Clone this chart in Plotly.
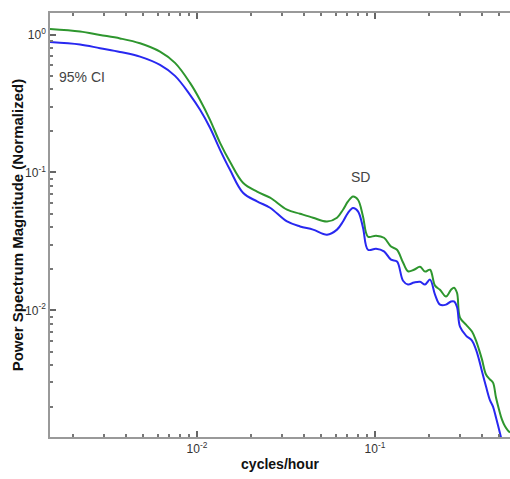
import plotly.graph_objects as go

freq = [0.001493, 0.002202, 0.002851, 0.003694, 0.004783, 0.006195, 0.007522, 0.009134,
        0.01040, 0.01183, 0.01347, 0.01532, 0.01813, 0.02174, 0.02572, 0.03204, 0.03791,
        0.04485, 0.05375, 0.06116, 0.06610, 0.07052, 0.07522, 0.08024, 0.08561, 0.09133,
        0.1013, 0.1123, 0.1230, 0.1329, 0.1437, 0.1532, 0.1656, 0.1790, 0.1910, 0.2037,
        0.2173, 0.2318, 0.2505, 0.2673, 0.2778, 0.2888, 0.3002, 0.3245, 0.3506, 0.3694,
        0.3840, 0.3992, 0.4204, 0.4428, 0.4602, 0.4783, 0.4972, 0.5169, 0.5374, 0.5587, 0.5733]

upper_ci = [1.100, 1.055, 0.995, 0.939, 0.866, 0.753, 0.624, 0.447,
            0.336, 0.241, 0.164, 0.1196, 0.0842, 0.0725, 0.0656, 0.0537, 0.0502,
            0.0470, 0.0441, 0.0470, 0.0537, 0.0617, 0.0670, 0.0634, 0.0480, 0.0342,
            0.0348, 0.0336, 0.0290, 0.0275, 0.0222, 0.0192, 0.0197, 0.0207, 0.0191, 0.0197,
            0.0151, 0.0141, 0.0126, 0.0141, 0.0146, 0.0134, 0.00885, 0.00788, 0.00701, 0.00603,
            0.00519, 0.00439, 0.00342, 0.00315, 0.00299, 0.00233, 0.00191, 0.00161, 0.00144, 0.00134, 0.00130]

lower_ci = [0.885, 0.849, 0.797, 0.749, 0.693, 0.603, 0.502, 0.366,
            0.285, 0.211, 0.146, 0.1046, 0.0713, 0.0617, 0.0555, 0.0441, 0.0406,
            0.0385, 0.0354, 0.0385, 0.0441, 0.0510, 0.0552, 0.0522, 0.0398, 0.0275,
            0.0280, 0.0268, 0.0233, 0.0226, 0.0164, 0.0154, 0.0159, 0.0161, 0.0154, 0.0167,
            0.0130, 0.0110, 0.0110, 0.0116, 0.0116, 0.0106, 0.00762, 0.00656, 0.00603, 0.00519,
            0.00439, 0.00360, 0.00280, 0.00222, 0.00200, 0.00167, 0.00137, 0.00112, None, None, None]

x_tickvals = [0.01, 0.1]
x_ticktext = ["10<sup>-2</sup>", "10<sup>-1</sup>"]
y_tickvals = [0.01, 0.1, 1]
y_ticktext = ["10<sup>-2</sup>", "10<sup>-1</sup>", "10<sup>0</sup>"]

decades = [0.001, 0.01, 0.1, 1.0]
minor_vals = [d * k for d in decades for k in range(2, 10)]

x_range = [-2.826, -0.2416]
y_range = [-2.919, 0.157]

fig = go.Figure()
fig.add_trace(go.Scatter(x=freq, y=upper_ci, mode="lines", line=dict(color="#2E962E", width=2),
                         line_shape="spline", showlegend=False))
fig.add_trace(go.Scatter(x=freq, y=lower_ci, mode="lines", line=dict(color="#2828F0", width=2),
                         line_shape="spline", showlegend=False))
# empty trace that keeps the overlay (minor-tick) axes alive
fig.add_trace(go.Scatter(x=[], y=[], xaxis="x2", yaxis="y2", showlegend=False, hoverinfo="skip"))

tickfont = dict(family="Liberation Sans, Arial", size=12, color="#333")

fig.update_layout(
    xaxis=dict(type="log", range=x_range, tickmode="array", tickvals=x_tickvals, ticktext=x_ticktext,
               showgrid=False, zeroline=False, showline=True, linecolor="#999999", linewidth=1.5,
               ticks="inside", ticklen=6, tickwidth=1.5, tickcolor="#666666", tickfont=tickfont,
               mirror="ticks",
               title=dict(text="<b>cycles/hour</b>",
                          font=dict(family="Liberation Sans, Arial", size=14, color="#111"), standoff=4)),
    yaxis=dict(type="log", range=y_range, tickmode="array", tickvals=y_tickvals, ticktext=y_ticktext,
               showgrid=False, zeroline=False, showline=True, linecolor="#999999", linewidth=1.5,
               ticks="inside", ticklen=6, tickwidth=1.5, tickcolor="#666666", tickfont=tickfont,
               mirror=False),
    xaxis2=dict(type="log", range=x_range, overlaying="x", anchor="y", side="bottom",
                tickmode="array", tickvals=minor_vals, showticklabels=False,
                showgrid=False, zeroline=False, showline=False,
                ticks="inside", ticklen=3, tickwidth=1.5, tickcolor="#777777", mirror="ticks"),
    yaxis2=dict(type="log", range=y_range, overlaying="y", anchor="x", side="left",
                tickmode="array", tickvals=minor_vals, showticklabels=False,
                showgrid=False, zeroline=False, showline=False,
                ticks="inside", ticklen=3, tickwidth=1.5, tickcolor="#777777"),
)

fig.add_annotation(x=-0.071, y=0.5, xref="paper", yref="paper", text="<b>Power Spectrum Magnitude (Normalized)</b>",
                   textangle=-90, showarrow=False, xanchor="center", yanchor="middle",
                   font=dict(family="Liberation Sans, Arial", size=15, color="#111"))
fig.add_annotation(x=-1.084, y=-1.031, xref="x", yref="y", text="SD", showarrow=False,
                   font=dict(family="Liberation Sans, Arial", size=14, color="#444"))
fig.add_annotation(x=0.015, y=0.873, xref="paper", yref="paper", text="95% CI", showarrow=False,
                   xanchor="left", font=dict(family="Liberation Sans, Arial", size=14, color="#444"))

fig.update_layout(width=510, height=479, margin=dict(l=50, r=0, t=13, b=42),
                  paper_bgcolor="white", plot_bgcolor="white")

fig.write_html("out.html")
